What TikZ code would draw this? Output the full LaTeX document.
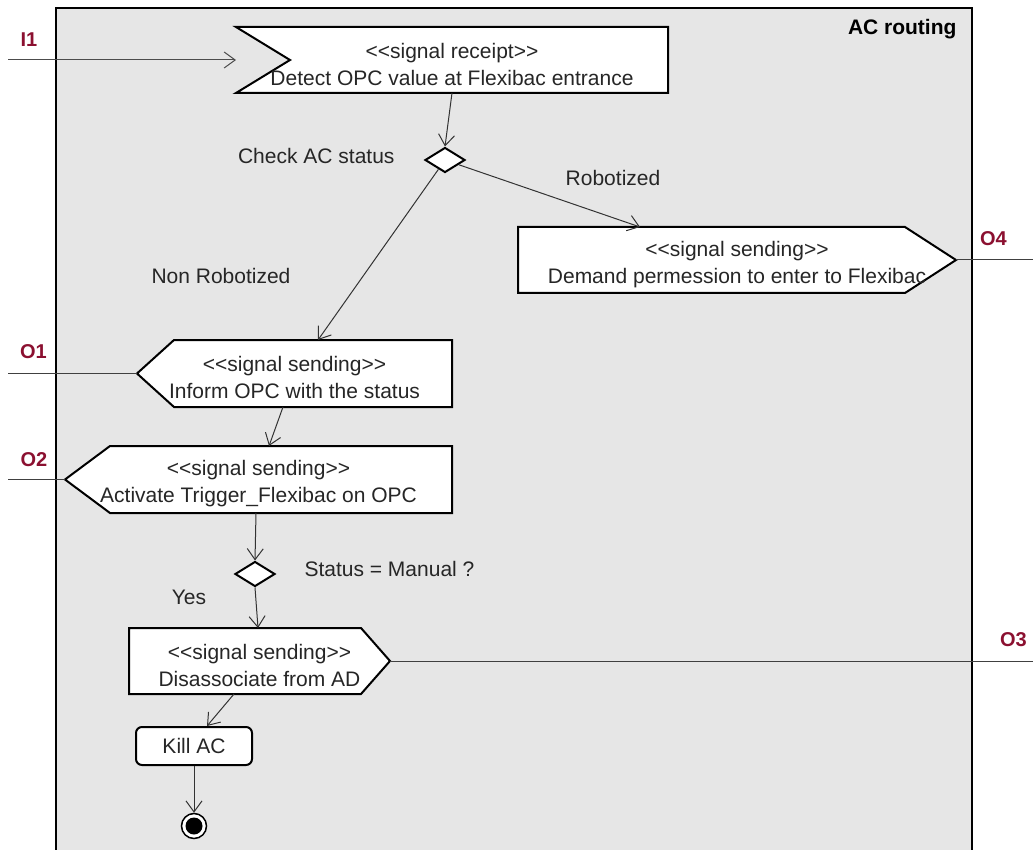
\documentclass[tikz,border=0pt]{standalone}
\usepackage{fontspec}
\setmainfont{Liberation Sans}
\usetikzlibrary{arrows.meta,calc,shapes.geometric,backgrounds}

\definecolor{framegray}{RGB}{230,230,230}
\definecolor{portred}{RGB}{139,16,48}
\newcommand{\stereo}[1]{<\kern0pt<#1>\kern0pt>}

\begin{document}
\begin{tikzpicture}[x=1pt,y=-1pt,
    every node/.style={font=\fontsize{21}{27}\selectfont, text=black!85},
    sig/.style={draw=none, align=center, inner sep=0pt, outer sep=0pt, text height=51pt},
    shape line/.style={draw=black, line width=2pt, fill=white, line join=miter},
    decision/.style={diamond, draw=black, line width=2pt, fill=white,
      minimum width=40pt, minimum height=25pt, inner sep=0pt},
    flow/.style={draw=black!80, line width=1pt, -{Straight Barb[length=11pt,width=16pt]}},
    port line/.style={draw=black!75, line width=1pt},
    port/.style={font=\fontsize{20}{24}\selectfont\bfseries, text=portred}]
  \useasboundingbox (0,0) rectangle (1033,850);

  % activity frame, open at the bottom
  \begin{scope}[on background layer]
    \fill[framegray] (56,8) rectangle (972,850);
    \draw[line width=1.5pt] (56,850) -- (56,8) -- (972,8) -- (972,850);
  \end{scope}
  \node[anchor=east, font=\fontsize{21}{24}\selectfont\bfseries, text=black] (title) at (960,29) {AC routing};

  % signal actions
  \node[sig, minimum width=432pt, minimum height=66pt] (recv) at (452,60)
    {\stereo{signal receipt}\\Detect OPC value at Flexibac entrance};
  \node[sig, minimum width=438pt, minimum height=66pt] (send4) at (737,260)
    {\stereo{signal sending}\\Demand permession to enter to Flexibac};
  \node[sig, minimum width=315pt, minimum height=67pt] (send1) at (294.5,373.5)
    {\stereo{signal sending}\\Inform OPC with the status};
  \node[sig, minimum width=387pt, minimum height=67pt] (send2) at (258.5,479.5)
    {\stereo{signal sending}\\Activate Trigger\_Flexibac on OPC};
  \node[sig, minimum width=261pt, minimum height=66pt] (send3) at (259.5,661)
    {\stereo{signal sending}\\Disassociate from AD};

  \begin{scope}[on background layer]
    \draw[shape line] (recv.north west) -- (recv.north east) -- (recv.south east)
      -- (recv.south west) -- ($(recv.west)+(54,0)$) -- cycle;
    \draw[shape line] (send4.north west) -- ($(send4.north east)+(-51,0)$) -- (send4.east)
      -- ($(send4.south east)+(-51,0)$) -- (send4.south west) -- cycle;
    \draw[shape line] (send1.west) -- ($(send1.north west)+(37,0)$) -- (send1.north east)
      -- (send1.south east) -- ($(send1.south west)+(37,0)$) -- cycle;
    \draw[shape line] (send2.west) -- ($(send2.north west)+(45,0)$) -- (send2.north east)
      -- (send2.south east) -- ($(send2.south west)+(45,0)$) -- cycle;
    \draw[shape line] (send3.north west) -- ($(send3.north east)+(-29,0)$) -- (send3.east)
      -- ($(send3.south east)+(-29,0)$) -- (send3.south west) -- cycle;
  \end{scope}

  % decisions, action, end
  \node[decision] (dec1) at (445,160) {};
  \node[decision] (dec2) at (255,574) {};
  \node[draw=black, line width=2pt, fill=white, rounded corners=6pt,
    minimum width=116pt, minimum height=38pt, inner sep=0pt] (kill) at (194,746) {Kill AC};
  \node[circle, draw=black, line width=1.5pt, fill=white, minimum size=25pt,
    inner sep=0pt] (final) at (194,826) {};
  \fill[black] (final.center) circle (8.5pt);

  % guards and decision names
  \node[anchor=east] (check) at (398,156) {Check AC status};
  \node (robo) at (613,178) {Robotized};
  \node (nonrobo) at (221,276) {Non Robotized};
  \node[anchor=west] (manual) at (301,569) {Status = Manual ?};
  \node (yes) at (189,597) {Yes};

  % control flow
  \draw[flow] (recv.south) -- (dec1.north);
  \draw[flow] (dec1) -- ($(send4.north west)+(122,0)$);
  \draw[flow] (dec1) -- ($(send1.north west)+(181,0)$);
  \draw[flow] ($(send1.south west)+(146,0)$) -- ($(send2.north west)+(204,0)$);
  \draw[flow] ($(send2.south west)+(191,0)$) -- (dec2.north);
  \draw[flow] (dec2.south) -- ($(send3.north west)+(129,0)$);
  \draw[flow] ($(send3.south west)+(105,0)$) -- ($(kill.north west)+(72,0)$);
  \draw[flow] (kill.south) -- (final.north);

  % pins
  \coordinate (i1end) at (8,60);
  \coordinate (o1end) at (8,373.5);
  \coordinate (o2end) at (8,479.5);
  \coordinate (o3end) at (1033,661);
  \coordinate (o4end) at (1033,260);
  \draw[flow, draw=black!70] (i1end) -- (recv.west);
  \draw[port line] (send1.west) -- (o1end);
  \draw[port line] (send2.west) -- (o2end);
  \draw[port line] (send3.east) -- (o3end);
  \draw[port line] (send4.east) -- (o4end);
  \node[port] (i1) at (29,40) {I1};
  \node[port] (o1) at (33.5,352) {O1};
  \node[port] (o2) at (34,460) {O2};
  \node[port] (o3) at (1013.5,640) {O3};
  \node[port] (o4) at (993.5,239) {O4};
\end{tikzpicture}
\end{document}
